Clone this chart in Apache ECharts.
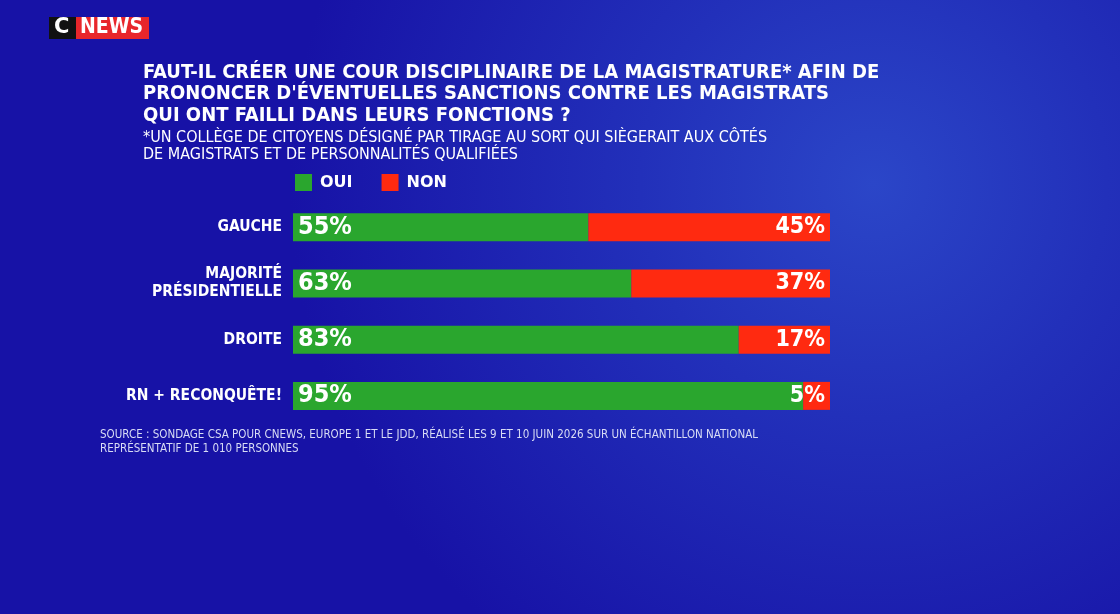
<!DOCTYPE html>
<html>
<head>
<meta charset="utf-8">
<script src="https://cdn.jsdelivr.net/npm/echarts@6/dist/echarts.min.js"></script>
<style>
  html, body { margin: 0; padding: 0; }
  #chart { width: 1120px; height: 614px; }
</style>
</head>
<body>
<div id="chart"></div>
<script>
var categories = ['GAUCHE', 'MAJORITÉ\nPRÉSIDENTIELLE', 'DROITE', 'RN + RECONQUÊTE!'];
var ouiValues = [55, 63, 83, 95];
var nonValues = [45, 37, 17, 5];

var titleText = "FAUT-IL CRÉER UNE COUR DISCIPLINAIRE DE LA MAGISTRATURE* AFIN DE\nPRONONCER D'ÉVENTUELLES SANCTIONS CONTRE LES MAGISTRATS\nQUI ONT FAILLI DANS LEURS FONCTIONS ?";
var subText = "*UN COLLÈGE DE CITOYENS DÉSIGNÉ PAR TIRAGE AU SORT QUI SIÈGERAIT AUX CÔTÉS\nDE MAGISTRATS ET DE PERSONNALITÉS QUALIFIÉES";
var sourceText = "SOURCE : SONDAGE CSA POUR CNEWS, EUROPE 1 ET LE JDD, RÉALISÉ LES 9 ET 10 JUIN 2026 SUR UN ÉCHANTILLON NATIONAL\nREPRÉSENTATIF DE 1 010 PERSONNES";

var narrow = '"Liberation Sans Narrow", "DejaVu Sans Condensed", sans-serif';

var chart = echarts.init(document.getElementById('chart'));

var option = {
    backgroundColor: {
        type: 'radial', x: 0.78, y: 0.3, r: 0.95,
        colorStops: [
            { offset: 0, color: '#2b46c8' },
            { offset: 0.4, color: '#2230ba' },
            { offset: 1, color: '#1712a6' }
        ]
    },
    title: [
        {
            text: titleText,
            left: 143, top: 62, padding: 0,
            textStyle: { color: '#fff', fontFamily: narrow, fontWeight: 'bold', fontSize: 20, lineHeight: 21.5 }
        },
        {
            text: subText,
            left: 143, top: 129, padding: 0,
            textStyle: { color: '#fff', fontFamily: narrow, fontWeight: 'normal', fontSize: 16, lineHeight: 17 }
        },
        {
            text: sourceText,
            left: 100, top: 428, padding: 0,
            textStyle: { color: '#d8dcf5', fontFamily: narrow, fontWeight: 'normal', fontSize: 11.5, lineHeight: 14 }
        }
    ],
    legend: {
        left: 295, top: 174, padding: 0,
        itemWidth: 17, itemHeight: 17, itemGap: 29,
        icon: 'rect',
        selectedMode: false,
        textStyle: { color: '#fff', fontFamily: '"DejaVu Sans", sans-serif', fontWeight: 'bold', fontSize: 16, padding: [0, 0, 0, 3] },
        data: ['OUI', 'NON']
    },
    graphic: [
        { type: 'rect', left: 49, top: 17, shape: { width: 27, height: 22 }, style: { fill: '#111' } },
        { type: 'rect', left: 76, top: 17, shape: { width: 73, height: 22 }, style: { fill: '#e8262b' } },
        { type: 'text', left: 54, top: 17, style: { text: 'C', fill: '#fff', font: 'bold 21px "DejaVu Sans", sans-serif' } },
        { type: 'text', left: 80, top: 17, style: { text: 'NEWS', fill: '#fff', font: 'bold 21px ' + narrow } }
    ],
    grid: { left: 293, right: 290, top: 199, bottom: 190 },
    xAxis: {
        type: 'value', min: 0, max: 100, show: false
    },
    yAxis: {
        type: 'category', inverse: true, data: categories,
        axisLine: { show: false }, axisTick: { show: false },
        axisLabel: {
            color: '#fff', fontFamily: narrow, fontWeight: 'bold', fontSize: 15.5,
            lineHeight: 18, margin: 11, align: 'right'
        }
    },
    series: [
        {
            name: 'OUI', type: 'bar', stack: 'total', barWidth: 28,
            itemStyle: { color: '#2aa62e' },
            label: {
                show: true, position: 'insideLeft', distance: 5,
                formatter: '{c}%', color: '#fff',
                fontFamily: '"DejaVu Sans Condensed", "DejaVu Sans", sans-serif', fontWeight: 'bold', fontSize: 25
            },
            data: ouiValues
        },
        {
            name: 'NON', type: 'bar', stack: 'total', barWidth: 28,
            itemStyle: { color: '#ff2a10' },
            label: {
                show: true, position: 'insideRight', distance: 5,
                formatter: '{c}%', color: '#fff',
                fontFamily: '"DejaVu Sans Condensed", "DejaVu Sans", sans-serif', fontWeight: 'bold', fontSize: 23
            },
            data: nonValues
        }
    ]
};

chart.setOption(option);
</script>
</body>
</html>
